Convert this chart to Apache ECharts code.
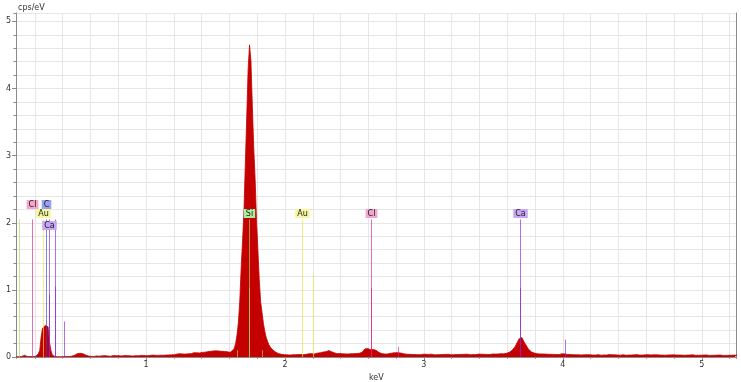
<!DOCTYPE html>
<html><head><meta charset="utf-8">
<script src="https://cdn.jsdelivr.net/npm/echarts@6/dist/echarts.min.js"></script>
<style>html,body{margin:0;padding:0;background:#fff}#c{width:741px;height:382px}</style>
</head><body><div id="c"></div>
<script>
// EDS spectrum: channel start / width (keV) and cps/eV per channel
const channelStartKeV = 0.065;
const channelWidthKeV = 0.01;
const counts = [
0.004,0.006,0.005,0.008,0.006,0.012,0.026,0.02,0.008,0.005,
0.006,0.004,0.007,0.005,0.009,0.018,0.05,0.1,0.3,0.43,
0.44,0.47,0.48,0.45,0.22,0.1,0.03,0.01,0.006,0.005,
0.004,0.006,0.005,0.008,0.006,0.005,0.009,0.007,0.006,0.01,
0.012,0.018,0.025,0.035,0.05,0.065,0.055,0.062,0.05,0.04,
0.03,0.022,0.015,0.012,0.01,0.014,0.008,0.012,0.016,0.01,
0.013,0.009,0.017,0.012,0.02,0.011,0.015,0.019,0.012,0.016,
0.022,0.014,0.018,0.012,0.02,0.025,0.015,0.018,0.022,0.016,
0.02,0.024,0.017,0.021,0.015,0.023,0.019,0.026,0.018,0.02,
0.024,0.017,0.022,0.015,0.019,0.025,0.021,0.016,0.028,0.022,
0.026,0.03,0.024,0.033,0.027,0.031,0.025,0.035,0.029,0.034,
0.03,0.038,0.032,0.042,0.035,0.04,0.045,0.036,0.048,0.04,
0.046,0.052,0.043,0.055,0.048,0.06,0.05,0.058,0.064,0.055,
0.062,0.07,0.06,0.075,0.068,0.082,0.072,0.088,0.08,0.092,
0.085,0.098,0.09,0.1,0.092,0.096,0.088,0.094,0.085,0.09,
0.082,0.088,0.078,0.072,0.07,0.075,0.1,0.13,0.2,0.33,
0.52,0.85,1.34,1.74,2.2,2.9,3.6,4.3,4.65,4.42,
3.75,3.13,2.66,2.05,1.6,1.15,0.82,0.66,0.5,0.38,
0.29,0.23,0.18,0.145,0.12,0.1,0.08,0.07,0.06,0.05,
0.045,0.04,0.038,0.035,0.04,0.032,0.036,0.03,0.038,0.033,
0.04,0.034,0.042,0.036,0.045,0.038,0.043,0.035,0.048,0.04,
0.044,0.05,0.042,0.048,0.055,0.046,0.052,0.058,0.05,0.062,
0.068,0.075,0.082,0.078,0.09,0.095,0.085,0.08,0.07,0.062,
0.055,0.05,0.046,0.052,0.044,0.048,0.042,0.046,0.04,0.045,
0.042,0.048,0.044,0.05,0.046,0.052,0.048,0.055,0.06,0.07,
0.09,0.12,0.13,0.125,0.13,0.11,0.118,0.112,0.115,0.1,
0.085,0.07,0.06,0.052,0.048,0.045,0.05,0.044,0.048,0.052,
0.055,0.06,0.058,0.065,0.07,0.062,0.066,0.058,0.052,0.048,
0.045,0.042,0.048,0.04,0.044,0.038,0.043,0.036,0.041,0.035,
0.04,0.034,0.038,0.042,0.036,0.04,0.033,0.039,0.035,0.041,
0.036,0.032,0.038,0.034,0.04,0.035,0.031,0.037,0.033,0.039,
0.034,0.04,0.036,0.032,0.038,0.035,0.041,0.036,0.033,0.038,
0.035,0.039,0.034,0.04,0.036,0.042,0.037,0.033,0.039,0.036,
0.04,0.035,0.038,0.043,0.037,0.041,0.036,0.04,0.044,0.038,
0.042,0.037,0.04,0.045,0.039,0.043,0.04,0.046,0.042,0.048,
0.044,0.047,0.05,0.055,0.06,0.07,0.085,0.1,0.12,0.15,
0.19,0.23,0.27,0.26,0.29,0.25,0.21,0.18,0.14,0.11,
0.09,0.075,0.065,0.058,0.052,0.048,0.044,0.046,0.042,0.045,
0.04,0.043,0.038,0.041,0.036,0.04,0.035,0.039,0.042,0.037,
0.041,0.038,0.044,0.048,0.052,0.046,0.042,0.038,0.041,0.036,
0.039,0.034,0.038,0.033,0.037,0.032,0.036,0.031,0.035,0.033,
0.03,0.034,0.029,0.033,0.036,0.03,0.034,0.028,0.032,0.035,
0.031,0.027,0.033,0.03,0.035,0.029,0.032,0.036,0.03,0.033,
0.028,0.032,0.035,0.029,0.033,0.027,0.031,0.034,0.03,0.026,
0.032,0.029,0.034,0.03,0.027,0.033,0.029,0.035,0.031,0.028,
0.033,0.029,0.026,0.032,0.03,0.034,0.028,0.031,0.027,0.033,
0.029,0.032,0.026,0.03,0.034,0.028,0.031,0.027,0.033,0.029,
0.026,0.031,0.028,0.032,0.027,0.03,0.025,0.029,0.033,0.028,
0.03,0.026,0.031,0.028,0.025,0.03,0.027,0.032,0.028,0.025,
0.029,0.026,0.031,0.027,0.024,0.029,0.026,0.03,0.027,0.024,
0.028,0.025,0.03,0.026,0.023,0.028,0.025,0.029,0.026,0.023,
0.027,0.024,0.028,0.025,0.022,0.027,0.024,0.028,0.025,0.026
];

// element marker lines
const lineKeV     = [0.088, 1.740, 1.740, 1.655, 1.836, 0.182, 2.622, 2.622, 2.815, 0.277, 0.256, 2.123, 2.204, 0.302, 0.302, 0.342, 0.342, 0.412, 3.691, 3.691, 4.012];
const lineHeight  = [2.05, 2.05, 1.03, 0.10, 0.10, 2.05, 2.05, 1.03, 0.15, 2.05, 2.05, 2.05, 1.22, 2.05, 0.93, 2.05, 1.05, 0.53, 2.05, 1.03, 0.26];
const lineElement = ['Si','Si','Si','Si','Si','Cl','Cl','Cl','Cl','C','Au','Au','Au','Ca','Ca','Ca','Ca','Ca','Ca','Ca','Ca'];

// element labels
const labelElement = ['Cl', 'C', 'Au', 'Ca', 'Si', 'Au', 'Cl', 'Ca'];
const labelKeV     = [0.182, 0.277, 0.256, 0.302, 1.740, 2.123, 2.622, 3.691];
const labelHeight  = [2.05, 2.05, 2.05, 2.05, 2.05, 2.05, 2.05, 2.05];

// styles
const labelOffsetY = [-9, -9, 0, 12, 0, 0, 0, 0];
const elementLineColor = {Si:'#9ee05a', Cl:'#e0208a', C:'#3040e0', Au:'#e6e640', Ca:'#8a20e0'};
const elementLabelBg   = {Si:'#a6f0a0', Cl:'#f4a6d0', C:'#9aa0f0', Au:'#f6f6a0', Ca:'#c8a6f4'};

const FONT = 'DejaVu Sans';
const spectrum = counts.map((c, i) => [channelStartKeV + i * channelWidthKeV, c]);
const lineData = lineKeV.map((k, i) => [k, lineHeight[i], i]);
const labelData = labelKeV.map((k, i) => [k, labelHeight[i], i]);

const XMIN = 0.064, XMAX = 5.25, YMIN = 0, YMAX = 5.125;
const axisGray = '#8a8a8a';
const gridGray = '#e6e6e6';

const chart = echarts.init(document.getElementById('c'), null, {renderer: 'canvas'});
chart.setOption({
  animation: false,
  grid: {left: 16, right: 4.5, top: 13, bottom: 25, containLabel: false, outerBoundsMode: 'none'},
  xAxis: [
    {type: 'value', position: 'bottom', min: XMIN, max: XMAX, splitNumber: 5, z: 1,
     name: 'keV', nameLocation: 'middle', nameGap: 12,
     nameTextStyle: {fontFamily: FONT, fontSize: 8, color: '#333'},
     axisLine: {show: true, lineStyle: {color: axisGray, width: 1}},
     axisTick: {show: true, length: 4, lineStyle: {color: axisGray}},
     axisLabel: {show: true, fontFamily: FONT, fontSize: 8, color: '#333', margin: 4, showMinLabel: false, showMaxLabel: false},
     splitLine: {show: false}},
    {type: 'value', position: 'bottom', offset: 0, min: XMIN, max: XMAX, splitNumber: 26, z: 0,
     axisLine: {show: false},
     axisTick: {show: true, length: 2, lineStyle: {color: '#9a9aaa'}},
     axisLabel: {show: false},
     splitLine: {show: true, lineStyle: {color: gridGray, width: 1}}},
    {type: 'value', position: 'top', min: XMIN, max: XMAX, z: 1,
     axisLine: {show: true, lineStyle: {color: axisGray, width: 1}},
     axisTick: {show: false}, axisLabel: {show: false}, splitLine: {show: false}}
  ],
  yAxis: [
    {type: 'value', position: 'left', min: YMIN, max: YMAX, splitNumber: 5, z: 1,
     name: 'cps/eV', nameLocation: 'end', nameGap: 1,
     nameTextStyle: {fontFamily: FONT, fontSize: 8, color: '#333', align: 'left', padding: [0, 0, 0, 2]},
     axisLine: {show: true, lineStyle: {color: axisGray, width: 1}},
     axisTick: {show: true, length: 4, lineStyle: {color: axisGray}},
     axisLabel: {show: true, fontFamily: FONT, fontSize: 8, color: '#333', margin: 5, showMaxLabel: false},
     splitLine: {show: false}},
    {type: 'value', position: 'left', offset: 0, min: YMIN, max: YMAX, splitNumber: 26, z: 0,
     axisLine: {show: false},
     axisTick: {show: true, length: 2.5, lineStyle: {color: axisGray}},
     axisLabel: {show: false},
     splitLine: {show: true, lineStyle: {color: gridGray, width: 1}}},
    {type: 'value', position: 'right', min: YMIN, max: YMAX, z: 1,
     axisLine: {show: true, lineStyle: {color: axisGray, width: 1}},
     axisTick: {show: false}, axisLabel: {show: false}, splitLine: {show: false}}
  ],
  series: [
    {type: 'line', xAxisIndex: 0, yAxisIndex: 0, data: spectrum, showSymbol: false, symbol: 'none',
     z: 2, clip: true, silent: true,
     lineStyle: {color: '#c40000', width: 0.8},
     areaStyle: {color: '#c40000', opacity: 1}},
    {type: 'custom', xAxisIndex: 0, yAxisIndex: 0, data: lineData, z: 5, silent: true, clip: false,
     renderItem: function (params, api) {
       const i = api.value(2);
       const p0 = api.coord([api.value(0), 0]);
       const p1 = api.coord([api.value(0), api.value(1)]);
       const x = Math.round(p0[0]) + 0.5;
       return {type: 'line', shape: {x1: x, y1: p0[1], x2: x, y2: p1[1]},
               style: {stroke: elementLineColor[lineElement[i]], lineWidth: 1, opacity: 0.65}};
     }},
    {type: 'custom', xAxisIndex: 0, yAxisIndex: 0, data: labelData, z: 10, silent: true, clip: false,
     renderItem: function (params, api) {
       const i = api.value(2);
       const p = api.coord([api.value(0), api.value(1)]);
       const el = labelElement[i];
       return {type: 'text', x: Math.round(p[0]) + 0.5, y: Math.round(p[1] - 1.5 + labelOffsetY[i]),
               style: {text: el, fill: '#222', font: '8px "DejaVu Sans"', align: 'center', verticalAlign: 'bottom',
                       backgroundColor: elementLabelBg[el], padding: [1, 2, 0, 2], lineHeight: 8}};
     }}
  ]
});
</script></body></html>
